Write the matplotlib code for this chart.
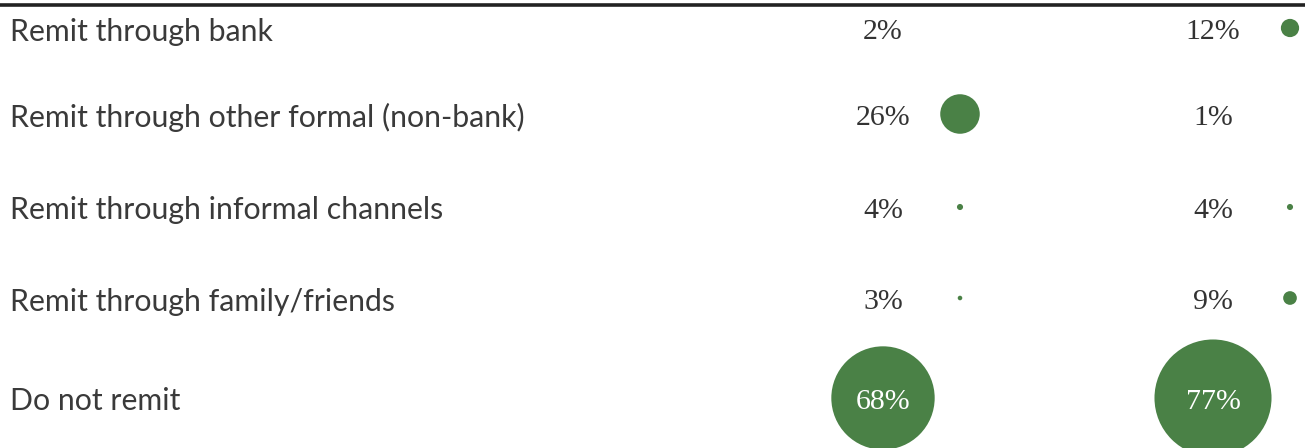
import matplotlib.pyplot as plt
from matplotlib.patches import Circle

# data
categories = [
    "Remit through bank",
    "Remit through other formal (non-bank)",
    "Remit through informal channels",
    "Remit through family/friends",
    "Do not remit",
]
group_a = [2, 26, 4, 3, 68]
group_b = [12, 1, 4, 9, 77]

# layout (pixel coords)
W, H = 1305, 448
row_y = [28, 114, 207, 298, 398]
text_x = [883, 1213]
dot_x = [960, 1290]
px_per_pct = 0.76
green = "#4a8146"
dark = "#333333"

fig = plt.figure(figsize=(W / 100, H / 100), dpi=100)
ax = fig.add_axes([0, 0, 1, 1])
ax.set_xlim(0, W)
ax.set_ylim(H, 0)
ax.axis("off")

ax.plot([0, W], [5.5, 5.5], color="#222222", lw=2.6, solid_capstyle="butt")

for y, label in zip(row_y, categories):
    ax.text(10, y + 1, label, fontsize=21.8, family="Lato", color="#3a3a3a",
            ha="left", va="center_baseline")

for col, values in enumerate([group_a, group_b]):
    for y, v in zip(row_y, values):
        r = v * px_per_pct
        inside = r > 40
        if v >= 3:
            cx = text_x[col] if inside else dot_x[col]
            ax.add_patch(Circle((cx, y), r, color=green, lw=0))
        ax.text(text_x[col], y + 1, f"{v}%", fontsize=21.5,
                family="Liberation Serif", color="white" if inside else dark,
                ha="center", va="center_baseline")

fig.savefig("out.png", dpi=100)
